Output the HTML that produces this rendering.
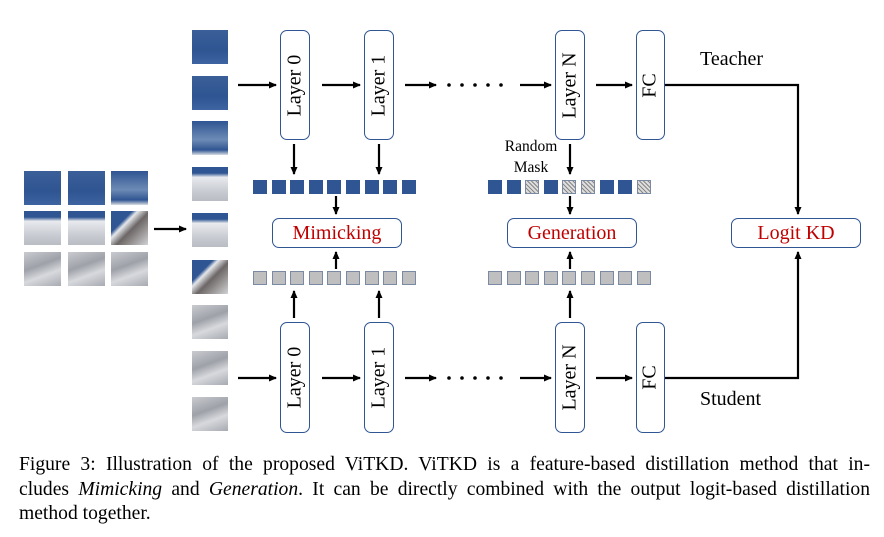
<!DOCTYPE html>
<html><head><style>
body{margin:0;background:#fff;width:884px;height:537px;position:relative;overflow:hidden;font-family:"Liberation Serif",serif}
.a{position:absolute}
.t{position:absolute;width:36px;height:34px}
.blue{background:linear-gradient(#3a5f98,#2f5592 60%,#3d64a0)}
.b2{background:linear-gradient(#2f5592,#6d8bb5 55%,#2f5592 85%,#d9dde3)}
.mix{background:linear-gradient(#2f5592 0,#2f5592 18%,#e8eaee 30%,#c9ccd2 70%,#b9bcc3)}
.mtn{background:linear-gradient(135deg,#2f5592 0,#2f5592 30%,#e5e7ea 38%,#6c6666 55%,#9a9696 75%,#d0d2d6)}
.gray{background:linear-gradient(160deg,#c9cbd0,#9ea1a8 40%,#d7d9dd 65%,#a7aab1)}
.box{position:absolute;border:1.5px solid #2f5592;border-radius:7px;box-sizing:border-box;background:#fff}
.v{display:flex;align-items:center;justify-content:center}
.v span{transform:rotate(-90deg);white-space:nowrap;font-size:20px}
.h{display:flex;align-items:center;justify-content:center;color:#c00000;font-size:20px}
.sq{position:absolute;width:14px;height:14px;box-sizing:border-box}
.db{background:#2f5592}
.gq{background:#bfbfbf;border:1px solid #7a8aa5}
.hq{background:repeating-linear-gradient(45deg,#888 0 1px,#ddd 1px 3px);border:1px solid #7a8aa5}
.cl{position:absolute;left:19px;width:851px;font-size:19.6px;white-space:nowrap}
.j{text-align:justify;text-align-last:justify;white-space:normal}
</style></head><body>
<div class="t blue" style="left:24px;top:171px;width:37px"></div>
<div class="t blue" style="left:68px;top:171px;width:37px"></div>
<div class="t b2" style="left:111px;top:171px;width:37px"></div>
<div class="t mix" style="left:24px;top:211px;width:37px"></div>
<div class="t mix" style="left:68px;top:211px;width:37px"></div>
<div class="t mtn" style="left:111px;top:211px;width:37px"></div>
<div class="t gray" style="left:24px;top:252px;width:37px"></div>
<div class="t gray" style="left:68px;top:252px;width:37px"></div>
<div class="t gray" style="left:111px;top:252px;width:37px"></div>
<div class="t blue" style="left:192px;top:30px"></div>
<div class="t blue" style="left:192px;top:76px"></div>
<div class="t b2" style="left:192px;top:121px"></div>
<div class="t mix" style="left:192px;top:167px"></div>
<div class="t mix" style="left:192px;top:213px"></div>
<div class="t mtn" style="left:192px;top:260px"></div>
<div class="t gray" style="left:192px;top:305px"></div>
<div class="t gray" style="left:192px;top:351px"></div>
<div class="t gray" style="left:192px;top:397px"></div>

<div class="box v" style="left:280px;top:30px;width:30px;height:110px"><span>Layer 0</span></div>
<div class="box v" style="left:364px;top:30px;width:30px;height:110px"><span>Layer 1</span></div>
<div class="box v" style="left:555px;top:30px;width:30px;height:110px"><span>Layer N</span></div>
<div class="box v" style="left:636px;top:30px;width:29px;height:110px"><span>FC</span></div>
<div class="box v" style="left:280px;top:322px;width:30px;height:111px"><span>Layer 0</span></div>
<div class="box v" style="left:364px;top:322px;width:30px;height:111px"><span>Layer 1</span></div>
<div class="box v" style="left:555px;top:322px;width:30px;height:111px"><span>Layer N</span></div>
<div class="box v" style="left:636px;top:322px;width:29px;height:111px"><span>FC</span></div>

<div class="box h" style="left:272px;top:218px;width:130px;height:30px">Mimicking</div>
<div class="box h" style="left:507px;top:218px;width:130px;height:30px">Generation</div>
<div class="box h" style="left:731px;top:218px;width:130px;height:30px">Logit KD</div>

<div class="a" style="left:700px;top:48px;font-size:20px">Teacher</div>
<div class="a" style="left:700px;top:388px;font-size:20px">Student</div>
<div class="a" style="left:496px;top:136px;font-size:15.5px;line-height:21px;text-align:center;width:70px">Random<br>Mask</div>

<div id="sq"></div>
<script>
var s='';
for(var i=0;i<9;i++){
 var x=253+i*18.6;
 s+='<div class="sq db" style="left:'+x+'px;top:180px"></div>';
 s+='<div class="sq gq" style="left:'+x+'px;top:271px"></div>';
 var x2=488+i*18.6;
 var hat=[2,4,5,8].indexOf(i)>=0;
 s+='<div class="sq '+(hat?'hq':'db')+'" style="left:'+x2+'px;top:180px"></div>';
 s+='<div class="sq gq" style="left:'+x2+'px;top:271px"></div>';
}
document.getElementById('sq').innerHTML=s;
</script>

<svg class="a" style="left:0;top:0" width="884" height="450">
<defs><marker id="m" markerWidth="8" markerHeight="8" refX="7" refY="4" orient="auto" markerUnits="userSpaceOnUse"><path d="M0,0.5 L8,4 L0,7.5 z" fill="#000"/></marker></defs>
<g stroke="#000" stroke-width="2.2" fill="none" marker-end="url(#m)">
<line x1="154" y1="229" x2="186" y2="229"/>
<line x1="238" y1="85" x2="276" y2="85"/>
<line x1="322" y1="85" x2="360" y2="85"/>
<line x1="405" y1="85" x2="436" y2="85"/>
<line x1="520" y1="85" x2="551" y2="85"/>
<line x1="596" y1="85" x2="632" y2="85"/>
<line x1="238" y1="378" x2="276" y2="378"/>
<line x1="322" y1="378" x2="360" y2="378"/>
<line x1="405" y1="378" x2="436" y2="378"/>
<line x1="520" y1="378" x2="551" y2="378"/>
<line x1="596" y1="378" x2="632" y2="378"/>
<line x1="294" y1="144" x2="294" y2="174"/>
<line x1="379" y1="144" x2="379" y2="174"/>
<line x1="570" y1="144" x2="570" y2="174"/>
<line x1="336" y1="196" x2="336" y2="214"/>
<line x1="570" y1="196" x2="570" y2="214"/>
<line x1="336" y1="269" x2="336" y2="252"/>
<line x1="570" y1="269" x2="570" y2="252"/>
<line x1="294" y1="318" x2="294" y2="291"/>
<line x1="379" y1="318" x2="379" y2="291"/>
<line x1="570" y1="318" x2="570" y2="291"/>
<polyline points="665,85 798,85 798,214"/>
<polyline points="665,378 798,378 798,252"/>
</g>
<g fill="#000">
<circle cx="449" cy="85" r="1.8"/><circle cx="462" cy="85" r="1.8"/><circle cx="475" cy="85" r="1.8"/><circle cx="488" cy="85" r="1.8"/><circle cx="501" cy="85" r="1.8"/>
<circle cx="449" cy="378" r="1.8"/><circle cx="462" cy="378" r="1.8"/><circle cx="475" cy="378" r="1.8"/><circle cx="488" cy="378" r="1.8"/><circle cx="501" cy="378" r="1.8"/>
</g>
</svg>

<div class="cl j" style="top:454px">Figure 3: Illustration of the proposed ViTKD. ViTKD is a feature-based distillation method that in-</div>
<div class="cl j" style="top:479px">cludes <i>Mimicking</i> and <i>Generation</i>. It can be directly combined with the output logit-based distillation</div>
<div class="cl" style="top:503px">method together.</div>
</body></html>
